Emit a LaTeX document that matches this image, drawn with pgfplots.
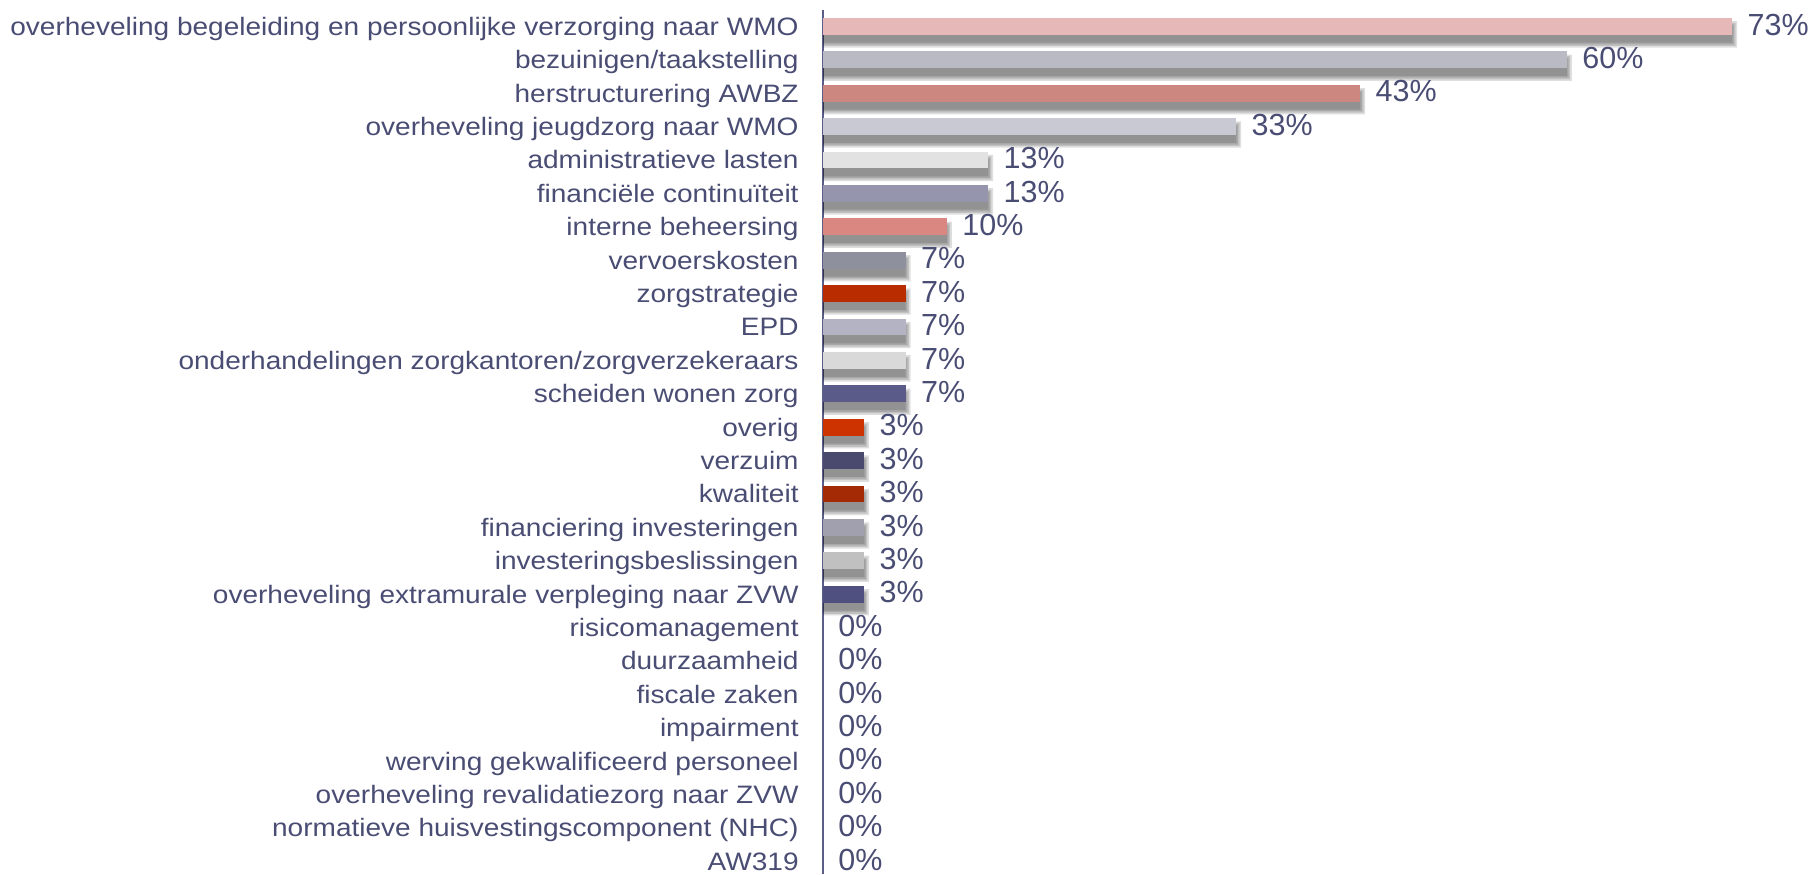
\documentclass[border=0pt]{standalone}
\usepackage{pgfplots}
\usepackage{pgfplotstable}
\pgfplotsset{compat=1.18}
\usepackage{fontspec}
\setmainfont{Liberation Sans}
\newfontfamily\labfont{Liberation Sans}[FakeStretch=1.112]

\definecolor{txtc}{HTML}{4A4D73}
\definecolor{axc}{HTML}{5A5E88}
\definecolor{c1}{HTML}{E6B8B7}
\definecolor{c2}{HTML}{B9BAC3}
\definecolor{c3}{HTML}{CC8781}
\definecolor{c4}{HTML}{C8C9D3}
\definecolor{c5}{HTML}{E2E2E2}
\definecolor{c6}{HTML}{9596AE}
\definecolor{c7}{HTML}{DA8782}
\definecolor{c8}{HTML}{8F909E}
\definecolor{c9}{HTML}{B82C00}
\definecolor{c10}{HTML}{B4B3C3}
\definecolor{c11}{HTML}{D9D9D9}
\definecolor{c12}{HTML}{5A5B89}
\definecolor{c13}{HTML}{CC3300}
\definecolor{c14}{HTML}{4A4A6E}
\definecolor{c15}{HTML}{A42A05}
\definecolor{c16}{HTML}{A0A0AE}
\definecolor{c17}{HTML}{C0C0C0}
\definecolor{c18}{HTML}{4F5080}

% percentages of the non-zero items (row index from the top)
\pgfplotstableread{
y   v
0   73.33
1   60.00
2   43.33
3   33.33
4   13.33
5   13.33
6   10.00
7   6.67
8   6.67
9   6.67
10  6.67
11  6.67
12  3.33
13  3.33
14  3.33
15  3.33
16  3.33
17  3.33
}\shares

\pgfplotsset{
  bs/.style={fill=#1, draw=none,
    nodes near coords={\pgfmathprintnumber[fixed,precision=0,assume math mode=true]{\pgfplotspointmeta}\%}},
  sh/.style={fill=black, fill opacity=0.13, draw=none, bar width=8.35pt+2*#1,
    forget plot},
}

\begin{document}
\begin{tikzpicture}
\begin{axis}[
    name=ax,
    xbar, bar width=8.35pt, bar shift=0pt,
    x=6.2pt, y=16.7pt, y dir=reverse,
    xmin=0, xmax=80.16, ymin=-0.49, ymax=25.38,
    hide x axis,
    axis y line*=left,
    y axis line style={axc, line width=0.9pt},
    ytick={0,...,25},
    major tick length=0pt,
    yticklabels={
      overheveling begeleiding en persoonlijke verzorging naar WMO,
      bezuinigen/taakstelling,
      herstructurering AWBZ,
      overheveling jeugdzorg naar WMO,
      administratieve lasten,
      financiële continuïteit,
      interne beheersing,
      vervoerskosten,
      zorgstrategie,
      EPD,
      onderhandelingen zorgkantoren/zorgverzekeraars,
      scheiden wonen zorg,
      overig,
      verzuim,
      kwaliteit,
      financiering investeringen,
      investeringsbeslissingen,
      overheveling extramurale verpleging naar ZVW,
      risicomanagement,
      duurzaamheid,
      fiscale zaken,
      impairment,
      werving gekwalificeerd personeel,
      overheveling revalidatiezorg naar ZVW,
      normatieve huisvestingscomponent (NHC),
      AW319},
    yticklabel style={anchor=base east, inner sep=0pt, xshift=-12pt, yshift=-4.5pt,
      font=\labfont\fontsize{12.6}{15}\selectfont, text=txtc},
    every node near coord/.append style={anchor=base west, inner sep=0pt,
      xshift=7.5pt, yshift=-4.4pt, text=txtc, fill opacity=1, text opacity=1,
      font=\fontsize{15.25}{18}\selectfont},
    clip=false,
]
% soft shadow: a few transparent layers, offset downwards
\addplot[sh=2.4pt]  table[x expr=\thisrow{v}+0.387, y expr=\thisrow{y}+0.24] {\shares};
\addplot[sh=1.6pt]  table[x expr=\thisrow{v}+0.258, y expr=\thisrow{y}+0.24] {\shares};
\addplot[sh=0.8pt]  table[x expr=\thisrow{v}+0.129, y expr=\thisrow{y}+0.24] {\shares};
\addplot[sh=0pt]    table[x=v, y expr=\thisrow{y}+0.24] {\shares};
% bars
\addplot[bs=c1]  coordinates {(73.33,0)};
\addplot[bs=c2]  coordinates {(60.00,1)};
\addplot[bs=c3]  coordinates {(43.33,2)};
\addplot[bs=c4]  coordinates {(33.33,3)};
\addplot[bs=c5]  coordinates {(13.33,4)};
\addplot[bs=c6]  coordinates {(13.33,5)};
\addplot[bs=c7]  coordinates {(10.00,6)};
\addplot[bs=c8]  coordinates {(6.67,7)};
\addplot[bs=c9]  coordinates {(6.67,8)};
\addplot[bs=c10] coordinates {(6.67,9)};
\addplot[bs=c11] coordinates {(6.67,10)};
\addplot[bs=c12] coordinates {(6.67,11)};
\addplot[bs=c13] coordinates {(3.33,12)};
\addplot[bs=c14] coordinates {(3.33,13)};
\addplot[bs=c15] coordinates {(3.33,14)};
\addplot[bs=c16] coordinates {(3.33,15)};
\addplot[bs=c17] coordinates {(3.33,16)};
\addplot[bs=c18] coordinates {(3.33,17)};
\addplot[draw=none, fill=none,
  nodes near coords={\pgfmathprintnumber[fixed,precision=0,assume math mode=true]{\pgfplotspointmeta}\%}]
  coordinates {(0,18) (0,19) (0,20) (0,21) (0,22) (0,23) (0,24) (0,25)};
\end{axis}
\pgfresetboundingbox
\path[use as bounding box] ([shift={(-411.5pt,5pt)}]ax.north west) rectangle (ax.south east);
\end{tikzpicture}
\end{document}
